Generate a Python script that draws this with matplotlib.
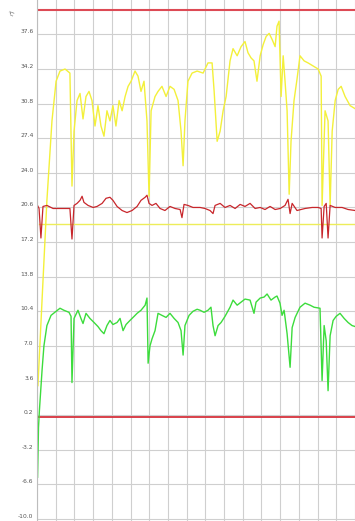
import matplotlib
matplotlib.use("Agg")
import matplotlib.pyplot as plt
import numpy as np

# ---- data (hours, degrees C) ----
yellow_t = [0.05, 0.27, 0.53, 0.80, 1.02, 1.23, 1.50, 1.76, 1.87, 1.98, 2.14, 2.30, 2.46, 2.62, 2.78,
            2.94, 3.10, 3.26, 3.42, 3.58, 3.74, 3.90, 4.06, 4.22, 4.39, 4.55, 4.71, 4.87, 5.03, 5.24,
            5.40, 5.56, 5.72, 5.88, 5.99, 6.10, 6.31, 6.47, 6.68, 6.90, 7.11, 7.33, 7.54, 7.70, 7.81,
            7.91, 8.07, 8.29, 8.56, 8.88, 9.14, 9.36, 9.47, 9.63, 9.79, 9.95, 10.11, 10.32, 10.48,
            10.70, 10.91, 11.12, 11.28, 11.44, 11.60, 11.76, 11.93, 12.09, 12.25, 12.41, 12.57, 12.73,
            12.83, 12.94, 13.05, 13.16, 13.26, 13.37, 13.48, 13.58, 13.74, 13.90, 14.06, 14.28, 14.49,
            14.76, 15.03, 15.19, 15.24, 15.40, 15.56, 15.67, 15.78, 15.94, 16.10, 16.26, 16.47, 16.74,
            17.01]
yellow_v = [3.1, 11.5, 21.3, 29.1, 33.0, 34.0, 34.2, 33.8, 22.7, 28.1, 31.1, 31.8, 29.3, 31.5, 32.0,
            31.1, 28.6, 30.6, 28.6, 27.6, 30.1, 29.1, 30.6, 28.6, 31.1, 30.1, 31.5, 32.5, 33.0, 34.0,
            33.5, 32.0, 33.0, 29.1, 21.7, 30.1, 31.5, 32.0, 32.5, 31.5, 32.5, 32.2, 31.1, 28.1, 24.7,
            29.1, 33.0, 33.8, 34.0, 33.8, 34.8, 34.8, 32.0, 27.1, 28.1, 30.1, 31.5, 35.0, 36.2,
            35.5, 36.4, 36.9, 35.8, 35.3, 35.0, 33.0, 35.5, 36.6, 37.4, 37.7, 37.1, 36.4,
            38.4, 38.9, 31.5, 35.5, 33.0, 30.1, 21.9, 27.1, 31.1, 33.2, 35.5, 35.0, 34.8,
            34.5, 34.2, 33.5, 20.8, 30.1, 29.1, 20.8, 28.1, 31.1, 32.2, 32.5, 31.5, 30.6,
            30.3]

red_t = [0.00, 0.11, 0.21, 0.32, 0.53, 0.86, 1.23, 1.55, 1.76, 1.87, 1.98, 2.14, 2.30, 2.41, 2.51,
         2.73, 3.00, 3.21, 3.48, 3.69, 3.90, 4.06, 4.28, 4.55, 4.81, 5.08, 5.35, 5.56, 5.78, 5.88,
         5.99, 6.15, 6.36, 6.58, 6.84, 7.11, 7.38, 7.65, 7.75, 7.86, 8.07, 8.34, 8.72, 8.98, 9.25,
         9.41, 9.52, 9.79, 10.05, 10.32, 10.59, 10.86, 11.12, 11.39, 11.66, 11.93, 12.19, 12.46,
         12.73, 13.00, 13.26, 13.42, 13.53, 13.64, 13.90, 14.33, 14.71, 15.03, 15.19, 15.24, 15.35,
         15.46, 15.56, 15.67, 15.94, 16.31, 16.63, 17.01]
red_v = [20.9, 20.5, 17.6, 20.7, 20.8, 20.5, 20.5, 20.5, 20.5, 17.5, 20.8, 21.0, 21.3, 21.7, 21.1,
         20.8, 20.6, 20.7, 21.0, 21.5, 21.6, 21.3, 20.7, 20.3, 20.1, 20.3, 20.7, 21.3, 21.6, 21.8,
         21.0, 20.8, 21.0, 20.5, 20.3, 20.7, 20.5, 20.4, 19.6, 20.9, 20.8, 20.6, 20.6, 20.5, 20.3,
         20.0, 20.8, 21.0, 20.6, 20.8, 20.5, 20.9, 20.7, 21.0, 20.5, 20.6, 20.4, 20.7,
         20.4, 20.5, 20.8, 21.4, 20.0, 21.0, 20.3, 20.5, 20.6, 20.6, 20.5, 17.6, 20.7,
         21.0, 17.6, 20.8, 20.6, 20.6, 20.4, 20.3]

green_t = [0.03, 0.08, 0.13, 0.27, 0.37, 0.53, 0.75, 1.02, 1.23, 1.44, 1.71, 1.82, 1.87, 1.98, 2.19,
           2.35, 2.46, 2.62, 2.83, 3.05, 3.26, 3.42, 3.58, 3.74, 3.90, 4.06, 4.28, 4.44, 4.60, 4.76,
           4.97, 5.19, 5.35, 5.56, 5.78, 5.88, 5.94, 6.04, 6.15, 6.31, 6.47, 6.68, 6.90, 7.11, 7.33,
           7.54, 7.70, 7.81, 7.91, 8.13, 8.34, 8.56, 8.72, 8.93, 9.14, 9.30, 9.41, 9.52, 9.68, 9.84,
           10.05, 10.32, 10.48, 10.70, 10.91, 11.12, 11.39, 11.60, 11.71, 11.93, 12.14, 12.30, 12.51,
           12.73, 12.83, 12.99, 13.10, 13.21, 13.37, 13.53, 13.64, 13.80, 14.06, 14.33, 14.60, 14.81,
           15.13, 15.24, 15.35, 15.46, 15.56, 15.67, 15.83, 15.99, 16.20, 16.42, 16.63, 16.84, 17.01]
green_v = [-5.9, -1.0, 0.7, 4.6, 7.0, 9.0, 10.0, 10.4, 10.7, 10.5, 10.3, 9.9, 3.4, 9.7, 10.5,
           9.7, 9.2, 10.2, 9.7, 9.3, 8.9, 8.5, 8.2, 9.0, 9.5, 9.1, 9.3, 9.7, 8.5, 9.1,
           9.5, 9.9, 10.2, 10.5, 11.0, 11.7, 5.3, 7.0, 7.7, 8.5, 10.2, 10.0, 9.8, 10.2, 9.7,
           9.3, 8.5, 6.1, 9.0, 10.0, 10.4, 10.6, 10.5, 10.3, 10.5, 10.8, 9.0, 8.0, 9.0, 9.3,
           9.9, 10.8, 11.5, 11.0, 11.3, 11.6, 11.5, 10.2, 11.3, 11.7, 11.8, 12.1, 11.5,
           11.8, 11.9, 11.2, 10.0, 10.5, 8.2, 4.9, 8.8, 9.8, 10.8, 11.2, 11.0, 10.8,
           10.7, 3.6, 9.0, 7.5, 2.6, 8.0, 9.5, 9.9, 10.2, 9.7, 9.3, 9.0, 8.9]

upper_limit = 40.0
lower_limit = 0.0
yellow_ref = 19.0
ref_start = 0.1

y_ticks = [-10.0, -6.6, -3.2, 0.2, 3.6, 7.0, 10.4, 13.8, 17.2, 20.6, 24.0, 27.4, 30.8, 34.2, 37.6]
tick_labels = ["%.1f" % v for v in y_ticks]
unit_label = "°C"

# ---- figure ----
fig = plt.figure(figsize=(3.55, 5.21), dpi=100)
ax = fig.add_axes([37 / 355, 0.0, 318 / 355, 1.0])

ax.set_xlim(0, 17.0)
ax.set_ylim(-10.2, 40.98)

ax.set_xticks(np.arange(0, 18, 1))
ax.set_yticks(y_ticks)
ax.set_yticklabels(tick_labels)
ax.grid(True, color="#cfcfcf", linewidth=0.8)
ax.set_axisbelow(True)

for s in ["top", "right", "bottom"]:
    ax.spines[s].set_visible(False)
ax.spines["left"].set_color("#bdbdbd")
ax.spines["left"].set_linewidth(0.8)

ax.tick_params(axis="both", length=0)
ax.tick_params(axis="x", labelbottom=False)
ax.tick_params(axis="y", labelsize=4.3, labelcolor="#555555", pad=2.5)
for lbl in ax.get_yticklabels():
    lbl.set_verticalalignment("bottom")

ax.axhline(upper_limit, color="#dd4a55", linewidth=1.5)
ax.plot([0.0, 17.0], [lower_limit, lower_limit], color="#d6323c", linewidth=1.3)
ax.plot([ref_start, 17.0], [yellow_ref, yellow_ref], color="#eded5a", linewidth=1.0)

ax.plot(yellow_t, yellow_v, color="#f3f03a", linewidth=1.0)
ax.plot(red_t, red_v, color="#c8262b", linewidth=0.9)
ax.plot(green_t, green_v, color="#3cdc3c", linewidth=1.0)

fig.text(10 / 355, 1 - 14 / 521, unit_label, fontsize=4.3, color="#555555",
         ha="center", va="center", rotation=-25)

fig.savefig("out.png", dpi=100)
